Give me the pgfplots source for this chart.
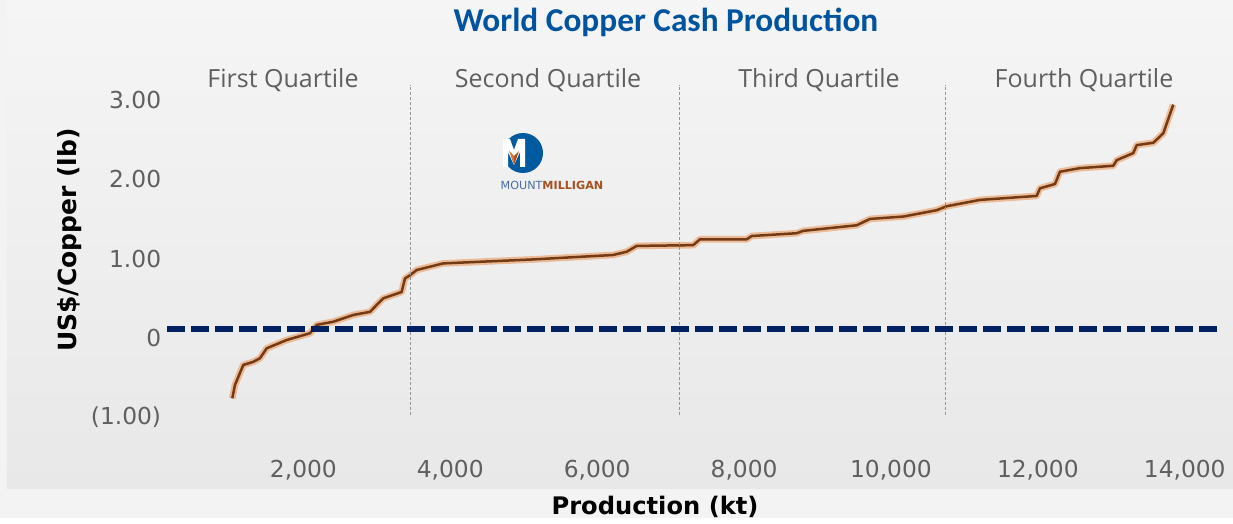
\documentclass[border=0pt]{standalone}
\usepackage{pgfplots}
\usepackage{pgfplotstable}
\pgfplotsset{compat=1.18}
\usepackage{fontspec}
\setmainfont{DejaVu Sans}
\newfontfamily\titlefont{Carlito}
\newfontfamily\qfont{Open Sans}
\definecolor{titleblue}{RGB}{0,84,159}
\definecolor{navy}{RGB}{0,32,96}
\definecolor{ticktext}{RGB}{95,95,95}
\definecolor{copperdark}{RGB}{115,58,20}
\definecolor{copperglow}{RGB}{235,145,80}
\definecolor{logoblue}{RGB}{0,90,160}
\definecolor{logotext}{RGB}{70,110,160}
\definecolor{logobrown}{RGB}{165,80,30}
\definecolor{logoorange}{RGB}{215,120,50}
\definecolor{qgray}{RGB}{150,150,150}
\definecolor{bgout}{RGB}{243,243,243}
\definecolor{bgtop}{RGB}{245,245,245}
\definecolor{bgmid}{RGB}{251,251,251}
\definecolor{bgbot}{RGB}{232,232,232}

% cash cost curve: cumulative production (kt), cash cost (US$/lb)
\pgfplotstableread{
x y
1032 -0.76
1069 -0.59
1182 -0.34
1318 -0.30
1409 -0.255
1500 -0.13
1773 -0.025
2090 0.06
2181 0.165
2407 0.205
2679 0.29
2907 0.33
3088 0.50
3338 0.58
3383 0.75
3451 0.79
3543 0.857
3905 0.94
5130 0.99
6219 1.046
6402 1.087
6538 1.16
7308 1.17
7400 1.244
8036 1.244
8104 1.285
8716 1.32
8806 1.35
9533 1.42
9714 1.50
10168 1.53
10622 1.61
10759 1.66
10985 1.70
11212 1.74
11984 1.79
12029 1.886
12233 1.94
12301 2.095
12573 2.14
13027 2.17
13073 2.24
13299 2.33
13346 2.43
13572 2.46
13708 2.58
13844 2.94
}\costcurve

\begin{document}
\begin{tikzpicture}
% background (pixel coordinates of the reference)
\begin{scope}[x=0.6pt,y=-0.6pt,xshift=-100.2pt,yshift=264.6pt]
\fill[bgout] (0,0) rectangle (1233,518);
\shade[top color=bgtop, middle color=bgmid, bottom color=bgbot] (7,0) rectangle (1233,488);
\end{scope}

\begin{axis}[
  at={(0,0)}, anchor=south west,
  scale only axis, width=630pt, height=228.6pt,
  xmin=143, xmax=14439, ymin=-1.2977, ymax=3.5026,
  axis line style={draw=none},
  tick style={draw=none},
  clip=false,
  scaled ticks=false,
  xtick={2000,4000,6000,8000,10000,12000,14000},
  xticklabels={{2,000},{4,000},{6,000},{8,000},{10,000},{12,000},{14,000}},
  ytick={-1,0,1,2,3},
  yticklabels={(1.00),0,1.00,2.00,3.00},
  ticklabel style={font=\fontsize{14}{16}\selectfont, text=ticktext},
  xticklabel style={anchor=center, yshift=-17.4pt},
  every axis x label/.style={at={(rel axis cs:0.4648,-0.1732)},anchor=center,font=\bfseries\fontsize{14.5}{16}\selectfont},
  every axis y label/.style={at={(rel axis cs:-0.0924,0.5276)},anchor=center,rotate=90,font=\bfseries\fontsize{15}{17}\selectfont},
  xlabel={Production (kt)},
  ylabel={US\$/Copper (lb)},
  title={World Copper Cash Production},
  every axis title/.style={at={(rel axis cs:0.4752,1.0997)},anchor=center,font=\titlefont\bfseries\fontsize{20}{24}\selectfont,text=titleblue},
]
\addplot[copperglow, line width=4pt, opacity=0.55, line join=round] table[x=x,y=y] {\costcurve};
\addplot[copperdark, line width=1.5pt, line join=round] table[x=x,y=y] {\costcurve};

\draw[qgray, dash pattern=on 1.5pt off 1.5pt, line width=0.6pt] (axis cs:3465,-0.97) -- (axis cs:3465,3.19);
\draw[qgray, dash pattern=on 1.5pt off 1.5pt, line width=0.6pt] (axis cs:7114,-0.97) -- (axis cs:7114,3.19);
\draw[qgray, dash pattern=on 1.5pt off 1.5pt, line width=0.6pt] (axis cs:10749,-0.97) -- (axis cs:10749,3.19);

\addplot[navy, line width=3.6pt, dash pattern=on 10.8pt off 3.6pt] coordinates {(143,0.113) (14439,0.113)};

\node[font=\qfont\fontsize{15}{18}\selectfont, text=ticktext] at (rel axis cs:0.1105,0.9475) {First Quartile};
\node[font=\qfont\fontsize{15}{18}\selectfont, text=ticktext] at (rel axis cs:0.3629,0.9475) {Second Quartile};
\node[font=\qfont\fontsize{15}{18}\selectfont, text=ticktext] at (rel axis cs:0.6210,0.9475) {Third Quartile};
\node[font=\qfont\fontsize{15}{18}\selectfont, text=ticktext] at (rel axis cs:0.8733,0.9475) {Fourth Quartile};
\end{axis}

% Mount Milligan logo
\begin{scope}[x=0.6pt,y=-0.6pt,xshift=-100.2pt,yshift=264.6pt]
\fill[logoblue] (523,153) circle (12pt);
\fill[white] (503,139) -- (510,139) -- (514,150) -- (518,139) -- (525,139) -- (525,167) -- (520,167) -- (520,152) -- (514,165) -- (508,152) -- (508,167) -- (503,167) -- cycle;
\fill[logoorange] (509,151) -- (514,165) -- (514,156) -- cycle;
\fill[logobrown] (519,151) -- (514,165) -- (514,156) -- cycle;
\node[font=\fontsize{6.7}{8}\selectfont, inner sep=0pt] at (552,185) {\textcolor{logotext}{MOUNT}\textcolor{logobrown}{\bfseries MILLIGAN}};
\end{scope}
\end{tikzpicture}
\end{document}
